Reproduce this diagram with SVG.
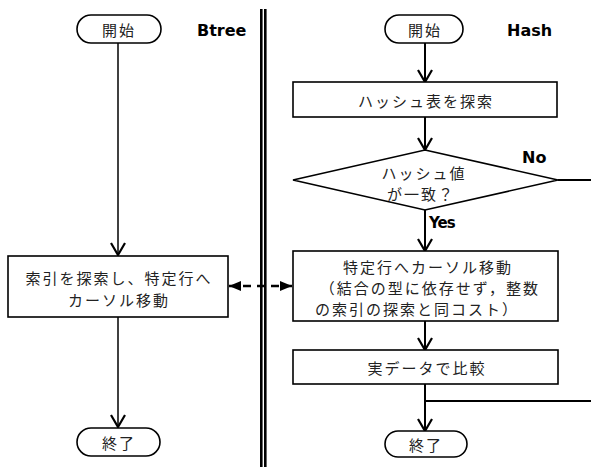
<svg xmlns="http://www.w3.org/2000/svg" width="591" height="467" viewBox="0 0 591 467">
<style>
.box{fill:#fff;stroke:#000;stroke-width:1.6}
.jp{font-family:"Noto Sans CJK JP","DejaVu Sans",sans-serif;font-size:15px;letter-spacing:2px;fill:#222;text-anchor:middle;dominant-baseline:central}
.lbl{font-family:"DejaVu Sans",Verdana,sans-serif;font-weight:bold;font-size:16px;fill:#000}
.c{fill:none;stroke:#000;stroke-width:2}
.cl{fill:none;stroke:#000;stroke-width:1.5}
</style>
<defs>
<marker id="v" viewBox="0 0 14 16" refX="13" refY="8" markerWidth="14" markerHeight="16" markerUnits="userSpaceOnUse" orient="auto-start-reverse">
<path d="M1,1 L13,8 L1,15" fill="none" stroke="#000" stroke-width="2.2"/>
</marker>
<marker id="tri" viewBox="0 0 12 10" refX="12" refY="5" markerWidth="12" markerHeight="10" markerUnits="userSpaceOnUse" orient="auto-start-reverse">
<path d="M0,0 L12,5 L0,10 Z" fill="#000"/>
</marker>
</defs>
<g id="divider">
<line x1="261.3" y1="9" x2="261.3" y2="467" stroke="#000" stroke-width="2.6"/>
<line x1="265.3" y1="9" x2="265.3" y2="467" stroke="#000" stroke-width="2.6"/>
</g>
<g id="connectors">
<line class="cl" x1="118" y1="43" x2="118" y2="255" marker-end="url(#v)"/>
<line class="cl" x1="118" y1="317" x2="118" y2="427" marker-end="url(#v)"/>
<line class="c" x1="425" y1="43" x2="425" y2="82" marker-end="url(#v)"/>
<line class="c" x1="425" y1="117" x2="425" y2="150" marker-end="url(#v)"/>
<line class="c" x1="425" y1="210" x2="425" y2="251" marker-end="url(#v)"/>
<line class="c" x1="425" y1="321" x2="425" y2="350" marker-end="url(#v)"/>
<line class="c" x1="425" y1="384" x2="425" y2="431" marker-end="url(#v)"/>
<line class="c" x1="425" y1="401" x2="591" y2="401"/>
<line class="c" x1="558" y1="180" x2="591" y2="180"/>
<line x1="229" y1="286" x2="292" y2="286" stroke="#000" stroke-width="2.4" stroke-dasharray="8,6" marker-start="url(#tri)" marker-end="url(#tri)"/>
</g>
<g id="btree-label"><text class="lbl" x="197" y="36">Btree</text></g>
<g id="hash-label"><text class="lbl" x="507" y="36">Hash</text></g>
<g id="start-left">
<rect class="box" x="77" y="15" width="84" height="28" rx="14"/>
<text class="jp" x="119" y="29">開始</text>
</g>
<g id="btree-search">
<rect class="box" x="8" y="256" width="220" height="61"/>
<text class="jp" x="119" y="277">索引を探索し、特定行へ</text>
<text class="jp" x="119" y="299">カーソル移動</text>
</g>
<g id="end-left">
<rect class="box" x="77" y="428" width="83" height="28" rx="14"/>
<text class="jp" x="119" y="442">終了</text>
</g>
<g id="start-right">
<rect class="box" x="385" y="15" width="78" height="28" rx="14"/>
<text class="jp" x="425" y="29">開始</text>
</g>
<g id="hash-search">
<rect class="box" x="293" y="82" width="264" height="35"/>
<text class="jp" x="426" y="100">ハッシュ表を探索</text>
</g>
<g id="hash-match">
<polygon class="box" points="425,150 558,180 425,210 293,180"/>
<text class="jp" x="424" y="172">ハッシュ値</text>
<text class="jp" x="421" y="193">が一致？</text>
<text class="lbl" x="522" y="163">No</text>
<text class="lbl" x="429" y="228" style="font-size:15px;letter-spacing:-1px">Yes</text>
</g>
<g id="cursor-move">
<rect class="box" x="293" y="251" width="265" height="70"/>
<text class="jp" x="428" y="266">特定行へカーソル移動</text>
<text class="jp" x="430" y="287">（結合の型に依存せず，整数</text>
<text class="jp" x="417" y="308">の索引の探索と同コスト）</text>
</g>
<g id="compare">
<rect class="box" x="293" y="350" width="265" height="34"/>
<text class="jp" x="427" y="367">実データで比較</text>
</g>
<g id="end-right">
<rect class="box" x="385" y="431" width="82" height="26" rx="13"/>
<text class="jp" x="426" y="444">終了</text>
</g>
</svg>
